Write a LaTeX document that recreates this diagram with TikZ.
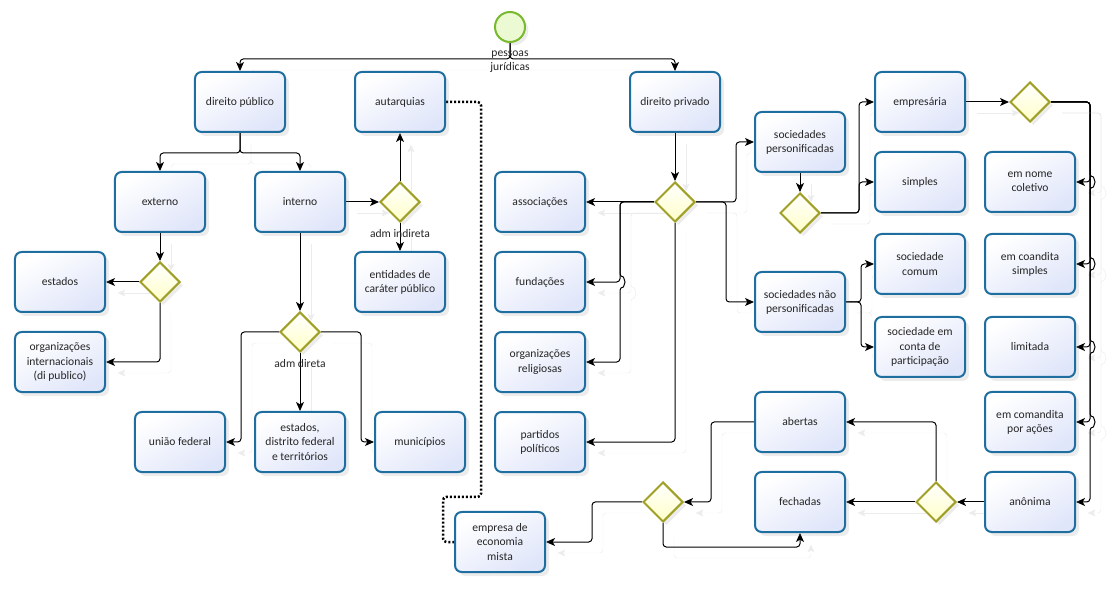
\documentclass[tikz,border=0pt]{standalone}
\usepackage{fontspec}
\setmainfont{Carlito}
\usetikzlibrary{arrows.meta, positioning, shapes.geometric, shadows, backgrounds}

\definecolor{taskline}{RGB}{30,110,160}
\definecolor{taskfill}{RGB}{224,230,250}
\definecolor{gateline}{RGB}{160,160,40}
\definecolor{gatefill}{RGB}{255,255,200}
\definecolor{startline}{RGB}{120,185,45}
\definecolor{startfill}{RGB}{236,250,212}
\definecolor{flowshadow}{RGB}{236,236,236}

\begin{document}
\begin{tikzpicture}[x=0.03cm, y=-0.03cm, font=\fontsize{9.9pt}{12pt}\selectfont,
  task/.style={rectangle, rounded corners=0.2cm, draw=taskline, line width=0.06cm,
    top color=white, bottom color=taskfill, shading angle=30,
    minimum width=2.7cm, minimum height=1.8cm, align=center, text=black!85,
    drop shadow={opacity=0.15, shadow xshift=0.12cm, shadow yshift=-0.12cm}},
  gate/.style={diamond, draw=gateline, line width=0.06cm,
    top color=white, bottom color=gatefill, minimum width=1.2cm, minimum height=1.2cm, inner sep=0pt,
    drop shadow={opacity=0.15, shadow xshift=0.1cm, shadow yshift=-0.1cm}},
  startev/.style={circle, draw=startline, line width=0.06cm, fill=startfill,
    minimum size=0.9cm, inner sep=0pt,
    drop shadow={opacity=0.15, shadow xshift=0.1cm, shadow yshift=-0.1cm}},
  lbl/.style={align=center, inner sep=1pt, text=black!85},
  flow/.style={-{Stealth[length=0.27cm, width=0.24cm, inset=0.07cm]}, line width=0.03cm,
    rounded corners=0.1cm,
    preaction={draw=flowshadow, transform canvas={shift={(0.33cm,-0.33cm)}}}},
  linkdot/.style={line width=0.075cm, dash pattern=on 0.06cm off 0.06cm, rounded corners=0.1cm},
  hop/.style={start angle=90, end angle=-90, radius=0.15cm}
]
\useasboundingbox (0,0) rectangle (1109,598);

% start
\node[startev] (start) at (510,27) {};
\node[lbl] (startlbl) at (510,62) {pessoas\\jurídicas};

% direito publico
\node[task] (dpub) at (240,102) {direito público};
\node[task] (auta) at (400,102) {autarquias};
\node[task] (ext) at (160,202) {externo};
\node[task] (int) at (300,202) {interno};
\node[gate] (gwind) at (400,202) {};
\node[lbl] (admind) at (400,234) {adm indireta};
\node[task] (ent) at (400,282) {entidades de\\caráter público};
\node[gate] (gwext) at (160,282) {};
\node[task] (est) at (60,282) {estados};
\node[task] (orgint) at (60,362) {organizações\\internacionais\\(di publico)};
\node[gate] (gwdir) at (300,332) {};
\node[lbl] (admdir) at (300,364) {adm direta};
\node[task] (edf) at (300,442) {estados,\\distrito federal\\e territórios};
\node[task] (uniao) at (180,442) {união federal};
\node[task] (mun) at (420,442) {municípios};
\node[task] (emp) at (500,542) {empresa de\\economia\\mista};

% direito privado
\node[task] (dpriv) at (675,102) {direito privado};
\node[gate] (gwpriv) at (675,202) {};
\node[task] (assocs) at (540,202) {associações};
\node[task, below=0.54cm of assocs] (fund) {fundações};
\node[task, below=0.54cm of fund] (orgrel) {organizações\\religiosas};
\node[task, below=0.54cm of orgrel] (part) {partidos\\políticos};
\node[task] (sp) at (800,142) {sociedades\\personificadas};
\node[gate] (gwsp) at (800,213) {};
\node[task] (snp) at (800,302) {sociedades não\\personificadas};
\node[task] (empr) at (920,102) {empresária};
\node[task] (simp) at (920,182) {simples};
\node[task] (scom) at (920,264) {sociedade\\comum};
\node[task] (sconta) at (920,347) {sociedade em\\conta de\\participação};
\node[gate] (gwempr) at (1030,102) {};
\node[task] (enc) at (1030,182) {em nome\\coletivo};
\node[task] (ecs) at (1030,264) {em coandita\\simples};
\node[task] (lim) at (1030,347) {limitada};
\node[task] (eca) at (1030,422) {em comandita\\por ações};
\node[task] (ano) at (1030,502) {anônima};
\node[gate] (gwano) at (936,502) {};
\node[task] (abert) at (800,422) {abertas};
\node[task] (fech) at (800,502) {fechadas};
\node[gate] (gwab) at (663,502) {};

% flows, kept under the shapes
\begin{scope}[on background layer]
\draw[flow] (start.south) -- ++(0,16) -| (dpub.north);
\draw[flow] (start.south) -- ++(0,16) -| (dpriv.north);
\draw[flow] (dpub.south) -- ++(0,20) -| (ext.north);
\draw[flow] (dpub.south) -- ++(0,20) -| (int.north);
\draw[flow] (int) -- (gwind);
\draw[flow] (gwind) -- (auta);
\draw[flow] (gwind) -- (ent);
\draw[flow] (ext) -- (gwext);
\draw[flow] (gwext) -- (est);
\draw[flow] (gwext.south) |- (orgint.east);
\draw[flow] (int) -- (gwdir);
\draw[flow] (gwdir.west) -- ++(-38,0) |- (uniao.east);
\draw[flow] (gwdir) -- (edf);
\draw[flow] (gwdir.east) -- ++(40,0) |- (mun.west);
\draw[linkdot] (auta.east) -- ++(35,0) -- ++(0,395) -- ++(-38,0) |- (emp.west);

\draw[flow] (dpriv) -- (gwpriv);
\draw[flow] (gwpriv) -- (assocs);
\draw[flow] (gwpriv.west) -- ++(-34,0) |- (fund.east);
\draw[flow] (gwpriv.west) -- ++(-34,0) -- ++(0,75) arc[hop] |- (orgrel.east);
\draw[flow] (gwpriv.south) |- (part.east);
\draw[flow] (gwpriv.east) -- ++(40,0) |- (sp.west);
\draw[flow] (gwpriv.east) -- ++(30,0) |- (snp.west);
\draw[flow] (sp) -- (gwsp);
\draw[flow] (gwsp.east) -- ++(38,0) |- (empr.west);
\draw[flow] (gwsp.east) -- ++(38,0) |- (simp.west);
\draw[flow] (snp.east) -- ++(15,0) |- (scom.west);
\draw[flow] (snp.east) -- ++(15,0) |- (sconta.west);
\draw[flow] (empr) -- (gwempr);
\draw[flow] (gwempr.east) -- ++(39,0) |- (enc.east);
\draw[flow] (gwempr.east) -- ++(39,0) |- (ecs.east);
\draw[flow] (gwempr.east) -- ++(39,0) |- (lim.east);
\draw[flow] (gwempr.east) -- ++(39,0) |- (eca.east);
\draw[flow] (gwempr.east) -- ++(39,0) -- ++(0,75) arc[hop] -- ++(0,72) arc[hop]
  -- ++(0,73) arc[hop] -- ++(0,65) arc[hop] |- (ano.east);
\draw[flow] (ano) -- (gwano);
\draw[flow] (gwano) -- (fech);
\draw[flow] (gwano.north) |- (abert.east);
\draw[flow] (abert.west) -- ++(-43,0) |- (gwab.east);
\draw[flow] (gwab.south) -- ++(0,24) -| (fech.south);
\draw[flow] (gwab.west) -- ++(-50,0) |- (emp.east);
\end{scope}

\end{tikzpicture}
\end{document}
